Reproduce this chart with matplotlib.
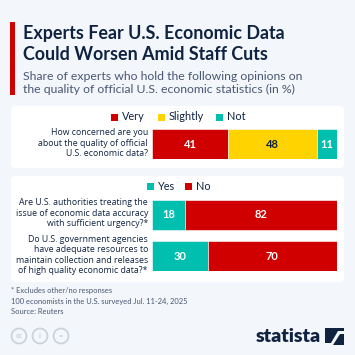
import matplotlib.pyplot as plt
from matplotlib.patches import FancyBboxPatch, Rectangle, Polygon

plt.rcParams['font.family'] = ['Lato', 'DejaVu Sans']

# data
q1_label = "How concerned are you\nabout the quality of official\nU.S. economic data?"
q1_series = ['Very', 'Slightly', 'Not']
q1_values = [41, 48, 11]

q2_labels = ["Are U.S. authorities treating the\nissue of economic data accuracy\nwith sufficient urgency?*",
             "Do U.S. government agencies\nhave adequate resources to\nmaintain collection and releases\nof high quality economic data?*"]
q2_series = ['Yes', 'No']
q2_yes = [18, 30]
q2_no = [82, 70]

RED = '#d10000'
YELLOW = '#ffd300'
TEAL = '#00bfae'
NAVY = '#0f2341'
GREY = '#4a5874'
BG = '#f3f6fa'
LABEL_FONT = ['Open Sans', 'DejaVu Sans']

W = H = 355
fig = plt.figure(figsize=(3.55, 3.55), dpi=100)
fig.patch.set_facecolor(BG)


def fx(x):
    return x / W


def fy(y):
    return 1 - y / H


def panel(y0, y1):
    p = FancyBboxPatch((fx(11), fy(y1)), fx(333), (y1 - y0) / H,
                       boxstyle='round,pad=0,rounding_size=0.012',
                       transform=fig.transFigure, facecolor='white', edgecolor='none', zorder=-1)
    fig.patches.append(p)


# header
fig.patches.append(Rectangle((fx(10), fy(95)), fx(5), 73 / H, transform=fig.transFigure,
                             facecolor=RED, edgecolor='none'))
fig.text(fx(23), fy(33), "Experts Fear U.S. Economic Data", fontsize=12.9, fontweight='bold',
         color=NAVY, va='center')
fig.text(fx(23), fy(54), "Could Worsen Amid Staff Cuts", fontsize=12.9, fontweight='bold',
         color=NAVY, va='center')
fig.text(fx(23), fy(76), "Share of experts who hold the following opinions on", fontsize=8.8,
         color=GREY, va='center')
fig.text(fx(23), fy(89), "the quality of official U.S. economic statistics (in %)", fontsize=8.8,
         color=GREY, va='center')

panel(106, 168)
panel(176, 282)


def legend(items, colors, y, xs):
    for name, c, x in zip(items, colors, xs):
        fig.patches.append(Rectangle((fx(x), fy(y + 3.5)), fx(7), 7 / H, transform=fig.transFigure,
                                     facecolor=c, edgecolor='none'))
        fig.text(fx(x + 11), fy(y), name, fontsize=7.8, color=NAVY, va='center')


legend(q1_series, [RED, YELLOW, TEAL], 117, [111, 158, 216])
legend(q2_series, [TEAL, RED], 187, [147, 185])


def question(text, y):
    fig.text(fx(148), fy(y), text, fontsize=6.3, family=LABEL_FONT, color=NAVY, ha='right',
             va='center', multialignment='right', linespacing=1.15)


# panel 1 bar
ax1 = fig.add_axes([fx(152), fy(159), fx(185), 30 / H], zorder=2)
colors1 = [RED, YELLOW, TEAL]
txt1 = ['white', NAVY, 'white']
left = 0
for v, c, tc in zip(q1_values, colors1, txt1):
    ax1.barh(0, v, left=left, height=1, color=c, edgecolor='white', linewidth=0.4)
    ax1.text(left + v / 2, 0, str(v), ha='center', va='center', fontsize=8,
             fontweight='bold', color=tc)
    left += v
ax1.set_xlim(0, 100)
ax1.set_ylim(-0.5, 0.5)
ax1.axis('off')
question(q1_label, 143)

# panel 2 bars
h = 30 / 41
ax2 = fig.add_axes([fx(152), fy(271), fx(185), 71 / H], zorder=2)
ys = [0, 1]
ax2.barh(ys, q2_yes, height=h, color=TEAL, edgecolor='white', linewidth=0.4)
ax2.barh(ys, q2_no, left=q2_yes, height=h, color=RED, edgecolor='white', linewidth=0.4)
for y, a, b in zip(ys, q2_yes, q2_no):
    ax2.text(a / 2, y, str(a), ha='center', va='center', fontsize=8, fontweight='bold', color='white')
    ax2.text(a + b / 2, y, str(b), ha='center', va='center', fontsize=8, fontweight='bold', color='white')
ax2.set_xlim(0, 100)
ax2.set_ylim(1 + h / 2, -h / 2)
ax2.axis('off')
question(q2_labels[0], 213)
question(q2_labels[1], 255)

# footer
fig.text(fx(11), fy(291), "* Excludes other/no responses", fontsize=5.4, color=GREY, va='center')
fig.text(fx(11), fy(301), "100 economists in the U.S. surveyed Jul. 11-24, 2025", fontsize=5.4,
         color=GREY, va='center')
fig.text(fx(11), fy(311), "Source: Reuters", fontsize=5.4, color=GREY, va='center')

for i, s in enumerate(['cc', 'i', '=']):
    cx = 19 + i * 21
    fig.patches.append(plt.Circle((fx(cx), fy(336)), 7.5 / W, transform=fig.transFigure,
                                  facecolor='none', edgecolor='#c9d0da', linewidth=1.2))
    fig.text(fx(cx), fy(336), s, fontsize=5.5, color='#c9d0da', ha='center', va='center',
             fontweight='bold')

fig.text(fx(321), fy(337), "statista", fontsize=14, fontweight='heavy', color=NAVY,
         ha='right', va='center')
fig.patches.append(Rectangle((fx(325), fy(345)), fx(19), 17 / H, transform=fig.transFigure,
                             facecolor=NAVY, edgecolor='none'))
# white swoosh in the logo
swoosh = [(325, 343), (331, 343), (338, 331), (344, 331), (344, 334), (340, 334), (333, 345), (325, 345)]
fig.patches.append(Polygon([(fx(x), fy(y)) for x, y in swoosh], closed=True,
                           transform=fig.transFigure, facecolor=BG, edgecolor='none'))

fig.savefig('out.png', dpi=100, facecolor=BG)
